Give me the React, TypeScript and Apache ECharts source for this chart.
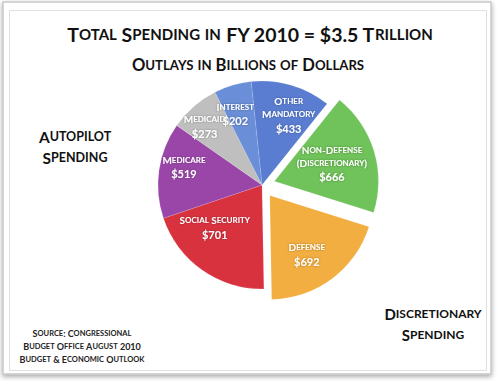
import React, { useEffect, useRef } from "react";
import * as echarts from "echarts";

const categories = [
  "Other\nMandatory",
  "Non-Defense\n(Discretionary)",
  "Defense",
  "Social Security",
  "Medicare",
  "Medicaid",
  "Interest",
];
const values = [433, 666, 692, 701, 519, 273, 202];
const exploded = [false, true, true, false, false, false, false];
const sliceColors = ["#5a7dd1", "#70c25a", "#f2ae40", "#d8323f", "#9a46a8", "#bfbfbf", "#6a8ed7"];
// label nudges (padding: top, right, bottom, left) so the stacked labels read like the original
const labelPadding = [
  [8, 0, 0, 10],
  [10, 32, 0, 0],
  [0, 18, 4, 0],
  [0, 6, 40, 0],
  [0, 4, 14, 0],
  [0, 14, 0, 0],
  [6, 10, 0, 0],
];

const titleText = "Total Spending in FY 2010 = $3.5 Trillion";
const subtitleText = "Outlays in Billions of Dollars";
const autopilotText = "Autopilot\nSpending";
const discretionaryText = "Discretionary\nSpending";
const sourceText = "Source: Congressional\nBudget Office August 2010\nBudget & Economic Outlook";

const FONT = "Lato, 'Open Sans', sans-serif";

function smallCaps(text: string, big: string, small: string): string {
  return text
    .split("\n")
    .map((line) => {
      let out = "";
      let cur = "";
      let curKey = "";
      for (const ch of line) {
        const isLower = ch !== ch.toUpperCase();
        const key = isLower ? small : big;
        if (key !== curKey && cur) {
          out += `{${curKey}|${cur}}`;
          cur = "";
        }
        curKey = key;
        cur += ch.toUpperCase();
      }
      if (cur) out += `{${curKey}|${cur}}`;
      return out;
    })
    .join("\n");
}

function capsRich(big: number, small: number, color: string, lineHeight: number) {
  return {
    B: { fontSize: big, fontWeight: "bold", color, fontFamily: FONT, lineHeight },
    S: { fontSize: small, fontWeight: "bold", color, fontFamily: FONT, lineHeight },
  };
}

export default function App() {
  const ref = useRef<HTMLDivElement>(null);

  useEffect(() => {
    if (!ref.current) return;
    const chart = echarts.init(ref.current, undefined, { renderer: "svg" });

    const pieData = categories.map((name, i) => ({
      name,
      value: values[i],
      selected: exploded[i],
      itemStyle: { color: sliceColors[i] },
    }));
    const labelData = categories.map((name, i) => ({
      name,
      value: values[i],
      selected: exploded[i],
      label: { padding: labelPadding[i] },
    }));

    const center = [262, 185];
    const R = 104;
    const pad = [5, 0, 5, 0];

    const option: any = {
      animation: false,
      backgroundColor: "#ffffff",
      title: [
        {
          text: smallCaps(titleText, "B", "S"),
          left: 250,
          top: 18,
          padding: pad,
          textAlign: "center",
          textStyle: { rich: capsRich(19.5, 15, "#111", 22) },
        },
        {
          text: smallCaps(subtitleText, "B", "S"),
          left: 248,
          top: 51,
          padding: pad,
          textAlign: "center",
          textStyle: { rich: capsRich(16.6, 13.2, "#111", 18) },
        },
        {
          text: smallCaps(autopilotText, "B", "S"),
          left: 75,
          top: 121,
          padding: pad,
          textAlign: "center",
          textStyle: { rich: capsRich(15.5, 12.5, "#111", 21) },
        },
        {
          text: smallCaps(discretionaryText, "B", "S"),
          left: 433,
          top: 298,
          padding: pad,
          textAlign: "center",
          textStyle: { rich: capsRich(15, 12, "#111", 21) },
        },
        {
          text: smallCaps(sourceText, "B", "S"),
          left: 82,
          top: 322,
          padding: pad,
          textAlign: "center",
          textStyle: { rich: capsRich(9, 7.5, "#222", 13) },
        },
      ],
      graphic: [
        {
          type: "rect",
          z: -10,
          shape: { x: 3, y: 2, width: 488, height: 372 },
          style: {
            fill: "#ffffff",
            stroke: "#c8c8c8",
            lineWidth: 1.5,
            shadowBlur: 5,
            shadowOffsetY: 2,
            shadowColor: "rgba(0,0,0,0.35)",
          },
        },
        {
          type: "rect",
          z: -9,
          shape: { x: 9.5, y: 10.5, width: 477, height: 360 },
          style: { fill: "none", stroke: "#e0e0e0", lineWidth: 1 },
        },
      ],
      series: [
        {
          type: "pie",
          center,
          radius: R,
          startAngle: 96,
          clockwise: true,
          selectedMode: "multiple",
          selectedOffset: 13,
          avoidLabelOverlap: false,
          label: { show: false },
          labelLine: { show: false },
          emphasis: { disabled: true },
          itemStyle: { borderColor: "rgba(255,255,255,0.25)", borderWidth: 0.5 },
          data: pieData,
          z: 2,
        },
        {
          type: "pie",
          center,
          radius: [R * 0.42, R],
          startAngle: 96,
          clockwise: true,
          selectedMode: "multiple",
          selectedOffset: 13,
          avoidLabelOverlap: false,
          silent: true,
          itemStyle: { color: "rgba(0,0,0,0)" },
          emphasis: { disabled: true },
          labelLine: { show: false },
          labelLayout: { hideOverlap: false },
          label: {
            show: true,
            position: "inside",
            minMargin: 0,
            formatter: (p: any) => smallCaps(p.name, "B", "S") + "\n" + `{V|$${p.value}}`,
            rich: {
              ...capsRich(10, 8, "#ffffff", 13),
              V: { fontSize: 11, fontWeight: "bold", color: "#ffffff", fontFamily: FONT, lineHeight: 15 },
            },
            textShadowColor: "rgba(0,0,0,0.35)",
            textShadowBlur: 2,
          },
          data: labelData,
          z: 3,
        },
      ],
    };

    chart.setOption(option);
    return () => chart.dispose();
  }, []);

  return (
    <div
      ref={ref}
      style={{ position: "fixed", left: 0, top: 0, width: 497, height: 381 }}
    />
  );
}
